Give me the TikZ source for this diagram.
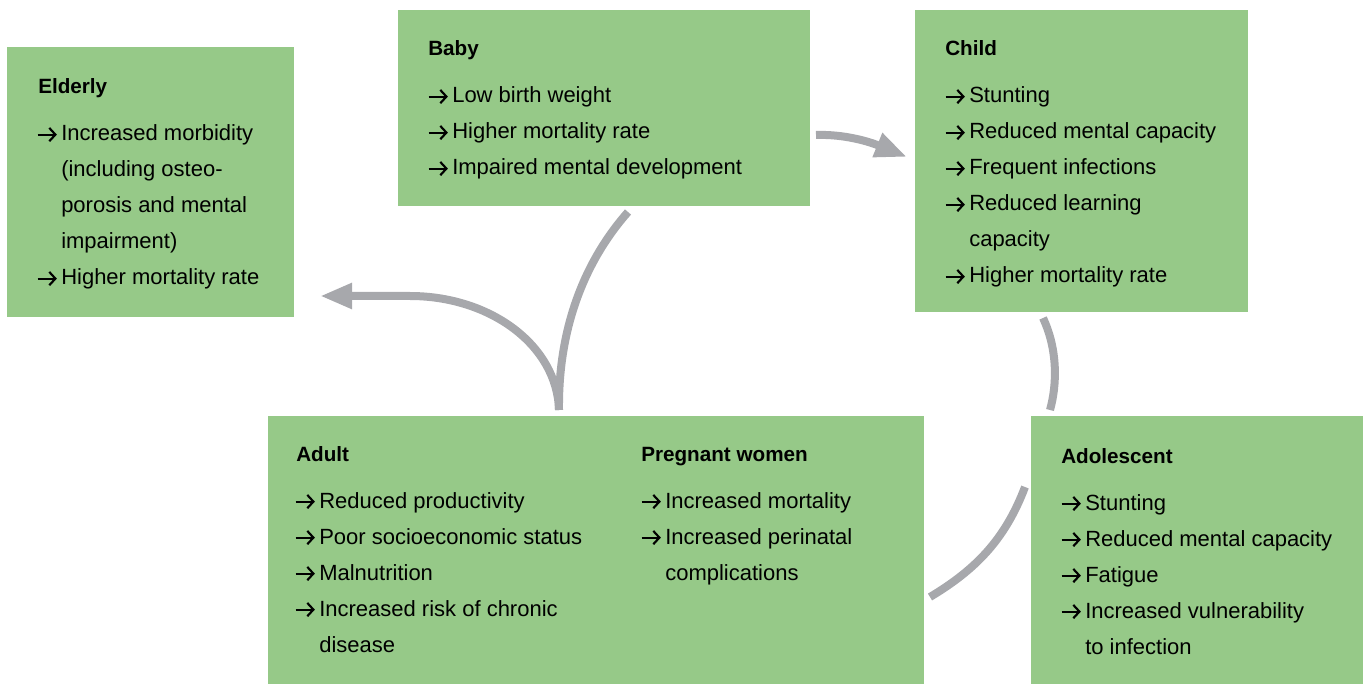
\documentclass[tikz,border=0pt]{standalone}
\usepackage{fontspec}
\setmainfont{Liberation Sans}
\usetikzlibrary{arrows.meta}
\definecolor{boxgreen}{RGB}{150,201,136}
\definecolor{arrowgrey}{RGB}{167,168,172}
\tikzset{
  box/.style={fill=boxgreen, draw=none, anchor=north west, inner sep=0pt},
  txt/.style={anchor=base west, inner sep=0pt, font=\fontsize{16.5}{20}\selectfont, text=black},
  ttl/.style={txt, font=\fontsize{15.5}{20}\selectfont\bfseries},
  conn/.style={draw=arrowgrey, line width=6pt},
  connhead/.style={conn, -{Triangle[length=24pt,width=18pt]}},
}
\newcommand\bulletarrow{\tikz[baseline=0pt,x=1pt,y=1pt]\draw[black,line width=1.6pt,-{Straight Barb[length=4.6pt,width=10pt,line width=1.6pt]}] (0,4.8) -- (14.5,4.8);}
\newcommand\itm[1]{\llap{\bulletarrow\hspace{2.5pt}}#1}
\begin{document}
\begin{tikzpicture}[x=0.75pt,y=-0.75pt]
\useasboundingbox (0,0) rectangle (1368,684);
% boxes
\node[box, minimum width=215.25pt, minimum height=202.5pt] (elderly) at (7,47) {};
\node[box, minimum width=309pt, minimum height=147pt] (baby) at (398,10) {};
\node[box, minimum width=249.75pt, minimum height=226.5pt] (child) at (915,10) {};
\node[box, minimum width=492pt, minimum height=201pt] (adult) at (268,416) {};
\node[box, minimum width=249pt, minimum height=201pt] (adol) at (1031,416) {};
% Elderly
\node[ttl] (el0) at (38,94) {Elderly};
\node[txt] (el1) at (61,141) {\itm{Increased morbidity}};
\node[txt] (el2) at (61,177) {(including osteo-};
\node[txt] (el3) at (61,213) {porosis and mental};
\node[txt] (el4) at (61,249) {impairment)};
\node[txt] (el5) at (61,285) {\itm{Higher mortality rate}};
% Baby
\node[ttl] (ba0) at (428,56) {Baby};
\node[txt] (ba1) at (452,103) {\itm{Low birth weight}};
\node[txt] (ba2) at (452,139) {\itm{Higher mortality rate}};
\node[txt] (ba3) at (452,175) {\itm{Impaired mental development}};
% Child
\node[ttl] (ch0) at (945,56) {Child};
\node[txt] (ch1) at (969,103) {\itm{Stunting}};
\node[txt] (ch2) at (969,139) {\itm{Reduced mental capacity}};
\node[txt] (ch3) at (969,175) {\itm{Frequent infections}};
\node[txt] (ch4) at (969,211) {\itm{Reduced learning}};
\node[txt] (ch5) at (969,247) {capacity};
\node[txt] (ch6) at (969,283) {\itm{Higher mortality rate}};
% Adult
\node[ttl] (ad0) at (296,461) {Adult};
\node[txt] (ad1) at (319,508) {\itm{Reduced productivity}};
\node[txt] (ad2) at (319,544) {\itm{Poor socioeconomic status}};
\node[txt] (ad3) at (319,580) {\itm{Malnutrition}};
\node[txt] (ad4) at (319,616) {\itm{Increased risk of chronic}};
\node[txt] (ad5) at (319,652) {disease};
% Pregnant women
\node[ttl] (pw0) at (641,461) {Pregnant women};
\node[txt] (pw1) at (665,508) {\itm{Increased mortality}};
\node[txt] (pw2) at (665,544) {\itm{Increased perinatal}};
\node[txt] (pw3) at (665,580) {complications};
% Adolescent
\node[ttl] (ao0) at (1061,463) {Adolescent};
\node[txt] (ao1) at (1085,510) {\itm{Stunting}};
\node[txt] (ao2) at (1085,546) {\itm{Reduced mental capacity}};
\node[txt] (ao3) at (1085,582) {\itm{Fatigue}};
\node[txt] (ao4) at (1085,618) {\itm{Increased vulnerability}};
\node[txt] (ao5) at (1085,654) {to infection};
% connector end points
\coordinate (babyout) at (816,135);
\coordinate (childin) at (907,157);
\coordinate (childout) at (1043,318);
\coordinate (adolin) at (1050,410);
\coordinate (adolout) at (1025,487);
\coordinate (adultin) at (930,597);
\coordinate (adultout) at (559,410);
\coordinate (babyin) at (628,212);
\coordinate (eldbend) at (410,296);
\coordinate (eldin) at (320,296);
% connectors
\draw[connhead] (babyout) .. controls (845,134) and (870,142) .. (childin);
\draw[conn] (childout) .. controls (1058,350) and (1057,385) .. (adolin);
\draw[conn] (adolout) .. controls (1005,540) and (975,570) .. (adultin);
\draw[conn] (adultout) .. controls (558,320) and (590,255) .. (babyin);
\draw[connhead] (adultout) .. controls (557,345) and (490,296) .. (eldbend) -- (eldin);
\end{tikzpicture}
\end{document}
